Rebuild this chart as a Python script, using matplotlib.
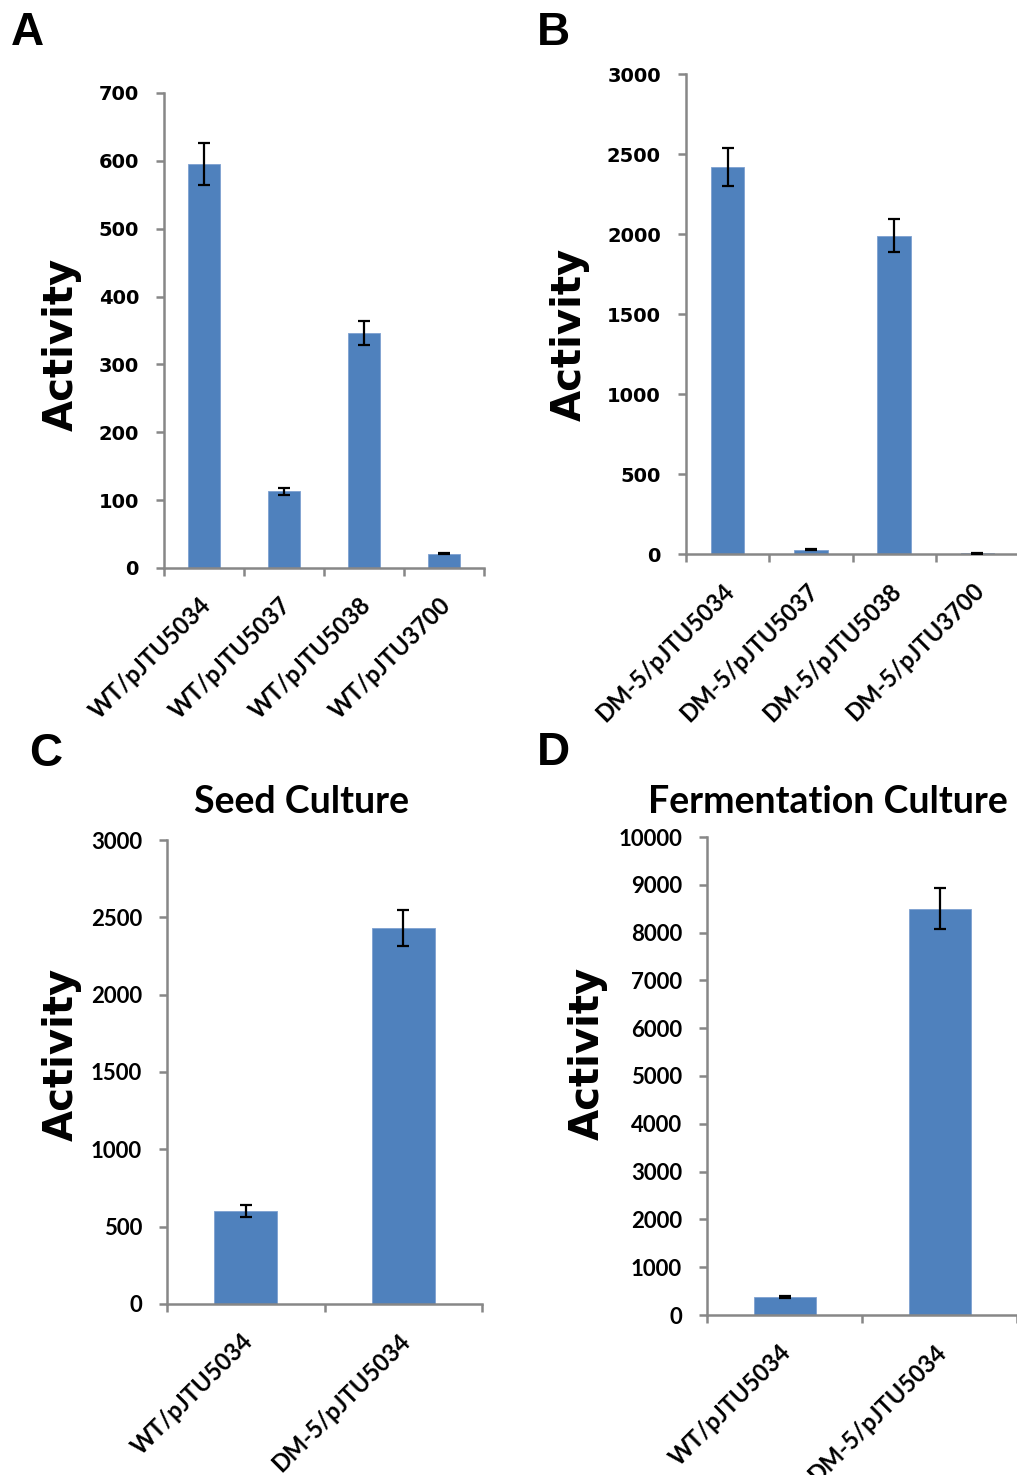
import numpy as np
import matplotlib
matplotlib.use('Agg')
import matplotlib.pyplot as plt

# Panel A - wild type strain
a_labels = ['WT/pJTU5034', 'WT/pJTU5037', 'WT/pJTU5038', 'WT/pJTU3700']
a_values = [596, 113, 346, 21]
a_errors = [31, 5, 18, 1]
a_ticks = [0, 100, 200, 300, 400, 500, 600, 700]

# Panel B - DM-5 strain
b_labels = ['DM-5/pJTU5034', 'DM-5/pJTU5037', 'DM-5/pJTU5038', 'DM-5/pJTU3700']
b_values = [2420, 28, 1990, 4]
b_errors = [120, 3, 105, 1]
b_ticks = [0, 500, 1000, 1500, 2000, 2500, 3000]

# Panel C - seed culture
c_labels = ['WT/pJTU5034', 'DM-5/pJTU5034']
c_values = [600, 2430]
c_errors = [38, 115]
c_ticks = [0, 500, 1000, 1500, 2000, 2500, 3000]

# Panel D - fermentation culture
d_labels = ['WT/pJTU5034', 'DM-5/pJTU5034']
d_values = [375, 8500]
d_errors = [25, 430]
d_ticks = [0, 1000, 2000, 3000, 4000, 5000, 6000, 7000, 8000, 9000, 10000]

W, H = 1017, 1475
BAR_COLOR = '#4F81BD'
AXIS_COLOR = '#878787'


def px_axes(fig, left, top, right, bottom):
    # pixel box -> figure fraction
    ax = fig.add_axes([left / W, 1 - bottom / H, (right - left) / W, (bottom - top) / H])
    ax.px_width = right - left
    return ax


def plot_panel(ax, labels, values, errors, yticks, tick_font, tick_size):
    n = len(values)
    x = np.arange(n)
    ax.bar(x, values, width=0.4, color=BAR_COLOR, edgecolor='#7EA0D0', linewidth=0.6, zorder=2)
    ax.errorbar(x, values, yerr=errors, fmt='none', ecolor='black', elinewidth=1.6,
                capsize=4.5, capthick=1.6, zorder=3)

    ax.set_xlim(-0.5, n - 0.5)
    ax.set_ylim(yticks[0], yticks[-1])
    ax.set_yticks(yticks)
    ax.set_yticklabels([str(t) for t in yticks], fontfamily=tick_font,
                       fontweight='bold', fontsize=tick_size)

    # category boundaries as major ticks, labels on minor ticks
    ax.set_xticks(np.arange(n + 1) - 0.5)
    ax.set_xticklabels([])
    nudge = 5 / (ax.px_width / n)  # labels sit ~5px left of bar centre
    ax.set_xticks(x - nudge, minor=True)
    ax.set_xticklabels(labels, minor=True, rotation=45, ha='right', va='top',
                       rotation_mode='anchor', fontfamily='Lato',
                       fontweight='bold', fontsize=17)
    ax.tick_params(axis='x', which='minor', length=0, pad=18)
    ax.tick_params(axis='x', which='major', length=6, width=1.8, color=AXIS_COLOR)
    ax.tick_params(axis='y', length=6, width=1.8, color=AXIS_COLOR, pad=12)

    for side in ['top', 'right']:
        ax.spines[side].set_visible(False)
    for side in ['left', 'bottom']:
        ax.spines[side].set_color(AXIS_COLOR)
        ax.spines[side].set_linewidth(1.8)


fig = plt.figure(figsize=(W / 100, H / 100), dpi=100)

ax_a = px_axes(fig, 164, 93, 484, 568)
plot_panel(ax_a, a_labels, a_values, a_errors, a_ticks, 'DejaVu Sans', 14)
ax_b = px_axes(fig, 686, 74, 1019, 554)
plot_panel(ax_b, b_labels, b_values, b_errors, b_ticks, 'DejaVu Sans', 14)
ax_c = px_axes(fig, 167, 840, 482, 1304)
plot_panel(ax_c, c_labels, c_values, c_errors, c_ticks, 'Lato', 16)
ax_d = px_axes(fig, 707, 837, 1017, 1315)
plot_panel(ax_d, d_labels, d_values, d_errors, d_ticks, 'Lato', 16)

# y axis labels
for cx, cy in [(62, 344), (570, 334), (62, 1054), (588, 1053)]:
    fig.text(cx / W, 1 - cy / H, 'Activity', rotation=90, ha='center', va='center',
             fontfamily='DejaVu Sans', fontweight='bold', fontsize=29)

# panel titles
fig.text(301 / W, 1 - 813 / H, 'Seed Culture', ha='center', va='baseline',
         fontfamily='Lato', fontweight='bold', fontsize=27)
fig.text(828 / W, 1 - 813 / H, 'Fermentation Culture', ha='center', va='baseline',
         fontfamily='Lato', fontweight='bold', fontsize=27)

# panel letters
for letter, lx, ly in [('A', 11, 45), ('B', 537, 45), ('C', 29, 766), ('D', 537, 765)]:
    fig.text(lx / W, 1 - ly / H, letter, ha='left', va='baseline',
             fontfamily='Liberation Sans', fontweight='bold', fontsize=33)

fig.savefig('out.png', dpi=100)
